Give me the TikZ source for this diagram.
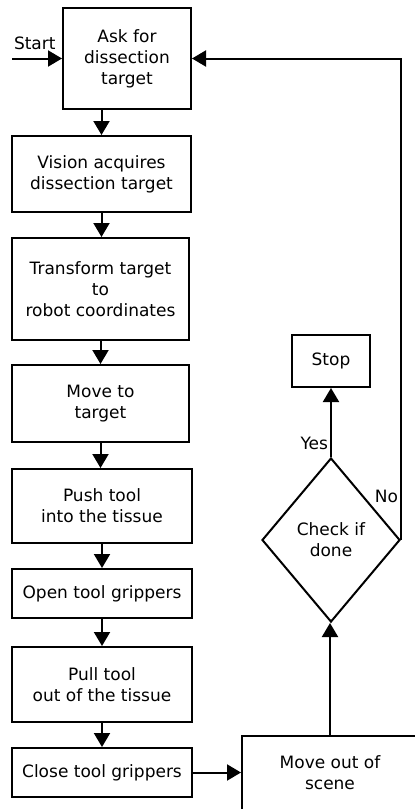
\documentclass[tikz,border=0pt]{standalone}
\usepackage{fontspec}
\setmainfont{DejaVu Sans}
\usetikzlibrary{arrows.meta,positioning,shapes.geometric}

\begin{document}
\begin{tikzpicture}[
    x=1pt, y=-1pt,
    >={Triangle[width=16pt,length=14pt]},
    line width=2pt,
    block/.style={draw, rectangle, align=center, inner sep=0pt, font=\fontsize{17}{21}\selectfont},
    decision/.style={draw, diamond, aspect=0.84, inner sep=0pt, minimum width=138pt, minimum height=164pt, align=center, font=\fontsize{17}{21}\selectfont},
    lbl/.style={font=\fontsize{17}{20}\selectfont, inner sep=2pt}
]
  \clip (0,0) rectangle (415,809);
  % Left column
  \node[block, minimum width=128pt, minimum height=101pt] (ask) at (127,58.5) {Ask for\\dissection\\target};
  \node[block, minimum width=179pt, minimum height=76pt] (vision) at (101.5,174) {Vision acquires\\dissection target};
  \node[block, minimum width=177pt, minimum height=102pt] (transform) at (100.5,289) {Transform target\\to\\robot coordinates};
  \node[block, minimum width=177pt, minimum height=77pt] (moveto) at (100.5,403.5) {Move to\\target};
  \node[block, minimum width=180pt, minimum height=74pt] (push) at (102,506) {Push tool\\into the tissue};
  \node[block, minimum width=180pt, minimum height=49pt] (open) at (102,593.5) {Open tool grippers};
  \node[block, minimum width=180pt, minimum height=75pt] (pull) at (102,684.5) {Pull tool\\out of the tissue};
  \node[block, minimum width=180pt, minimum height=49pt] (close) at (102,772.5) {Close tool grippers};
  % Right column
  \node[block, minimum width=176pt, minimum height=74pt] (moveout) at (330,773) {Move out of\\scene};
  \node[decision] (check) at (331,540) {Check if\\done};
  \node[block, minimum width=78pt, minimum height=52pt] (stop) at (331,361) {Stop};

  % Start
  \coordinate (start) at (12,58.5);
  \draw[->] (start) -- (ask.west);
  \node[lbl, anchor=south west] (startlbl) at (11,53) {Start};

  % Connections
  \draw[->] (vision.north |- ask.south) -- (vision.north);
  \draw[->] (vision.south) -- (vision.south |- transform.north);
  \draw[->] (transform.south) -- (moveto.north);
  \draw[->] (moveto.south) -- (moveto.south |- push.north);
  \draw[->] (push.south) -- (open.north);
  \draw[->] (open.south) -- (pull.north);
  \draw[->] (pull.south) -- (close.north);
  \draw[->] (close.east) -- (moveout.west |- close.east);
  \draw[->] (moveout.north) -- (moveout.north |- check.south);
  \draw[->] (check.north) -- (stop.south) node[lbl, pos=0.2, left] {Yes};
  \draw[->] (check.east) |- (ask.east) node[lbl, pos=0.045, left] {No};
\end{tikzpicture}
\end{document}
